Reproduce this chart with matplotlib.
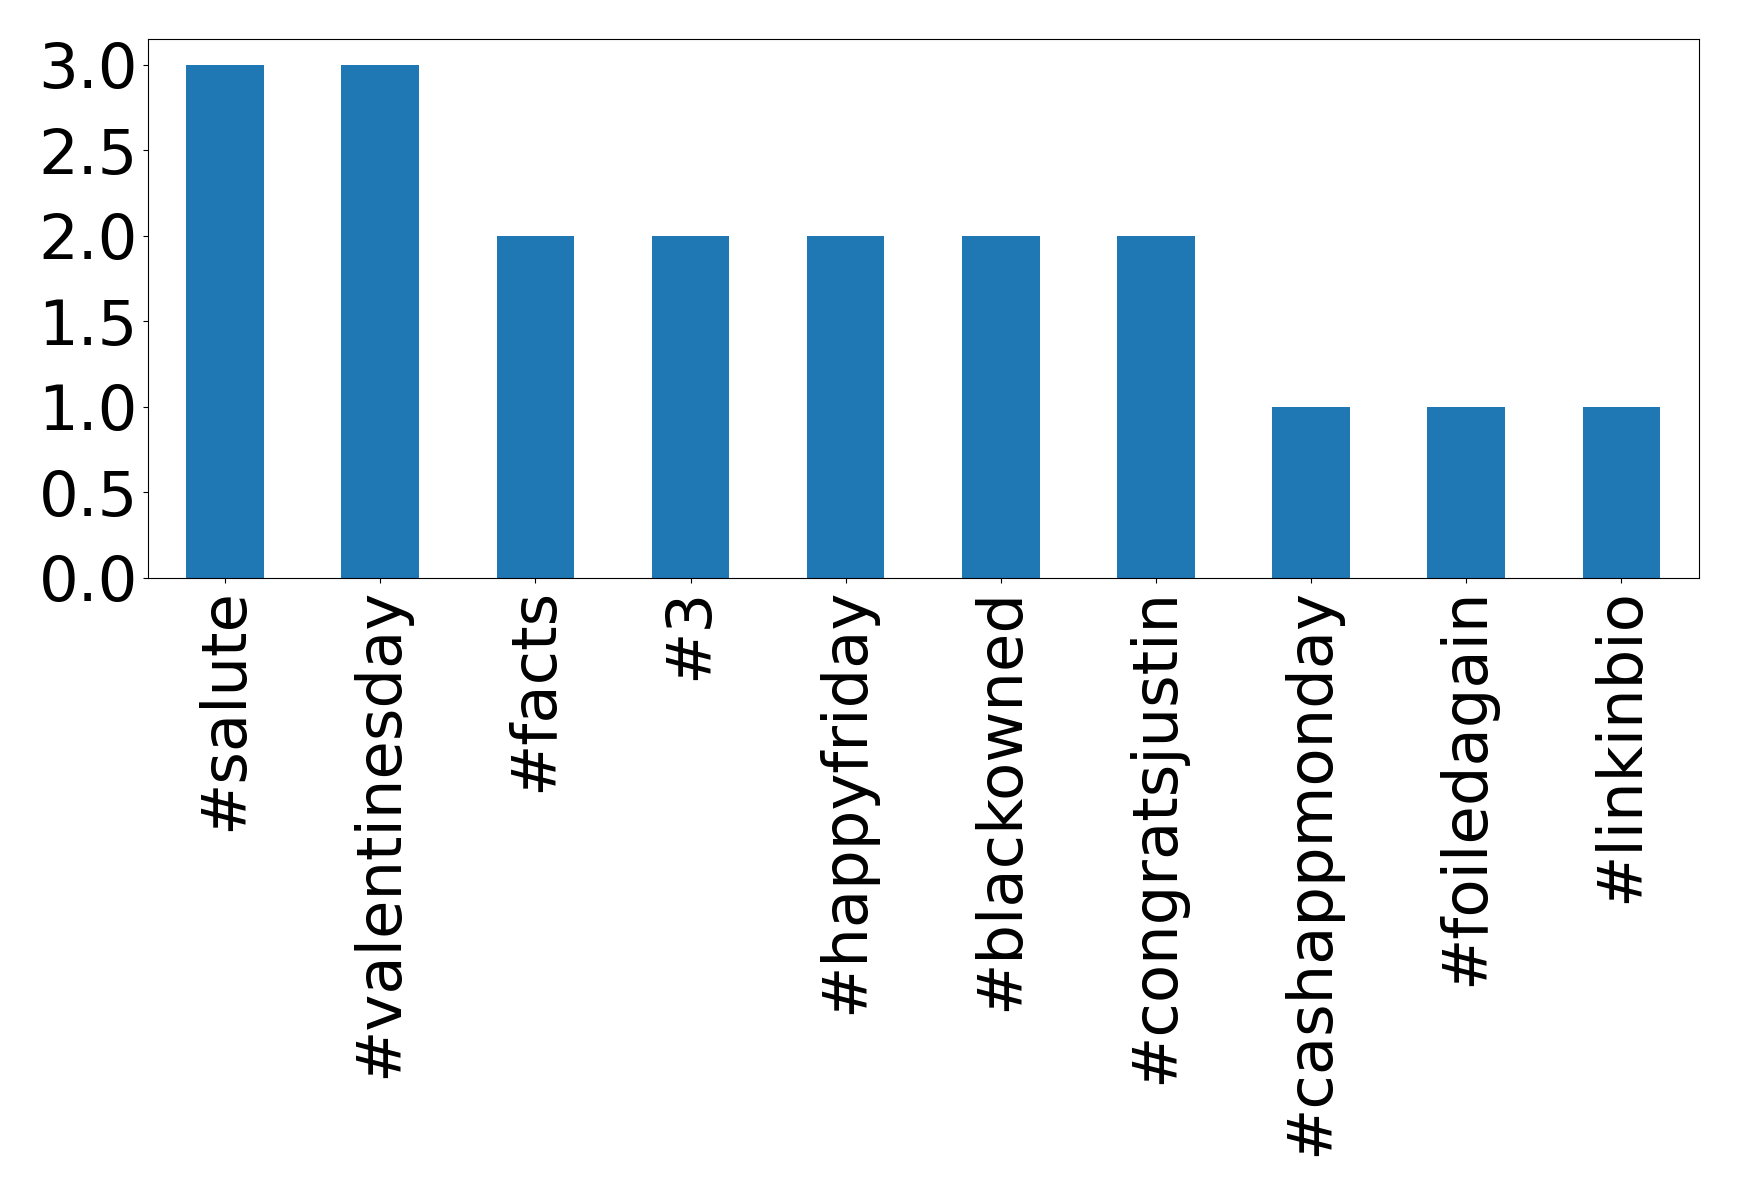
import matplotlib.pyplot as plt
import numpy as np

hashtags = ['#salute', '#valentinesday', '#facts', '#3', '#happyfriday',
            '#blackowned', '#congratsjustin', '#cashappmonday', '#foiledagain', '#linkinbio']
counts = [3, 3, 2, 2, 2, 2, 2, 1, 1, 1]
yticks = [0.0, 0.5, 1.0, 1.5, 2.0, 2.5, 3.0]

fig = plt.figure(figsize=(17.39, 11.96), dpi=100)
ax = fig.add_axes([147.5 / 1739, 1 - 578 / 1196, (1699 - 147.5) / 1739, (578 - 39) / 1196])

x = np.arange(len(hashtags))
ax.bar(x, counts, width=0.5, color='#1f77b4')
ax.set_xlim(-0.5, len(hashtags) - 0.5)
ax.set_xticks(x)
ax.set_xticklabels(hashtags, rotation=90)
ax.set_yticks(yticks)
ax.set_yticklabels([f'{v:.1f}' for v in yticks])
ax.tick_params(labelsize=45)

fig.savefig('out.png', dpi=100)
